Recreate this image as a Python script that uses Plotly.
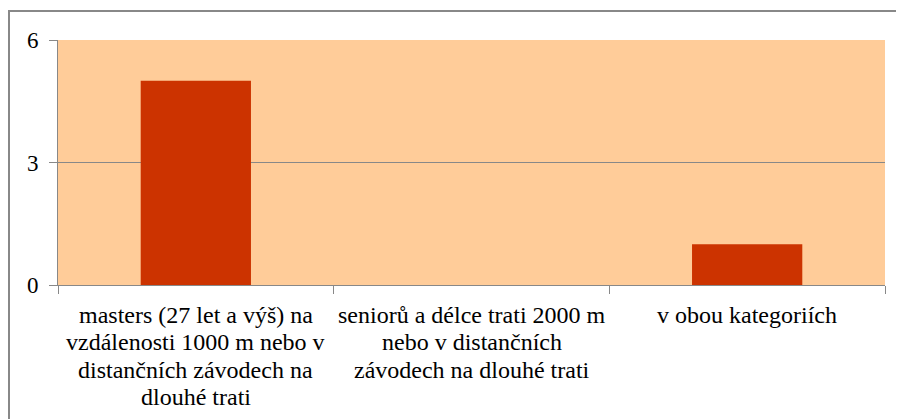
import plotly.graph_objects as go

categories = [
    "masters (27 let a výš) na<br>vzdálenosti 1000 m nebo v<br>distančních závodech na<br>dlouhé trati",
    "seniorů a délce trati 2000 m<br>nebo v distančních<br>závodech na dlouhé trati",
    "v obou kategoriích",
]
values = [5, 0, 1]
y_ticks = [0, 3, 6]

# page body adds an 8px margin, so the figure is drawn 8px in from the window edge
W, H = 896, 411
L, R, T, B = 50, 19, 32, 134
pw, ph = W - L - R, H - T - B

serif = "'Times New Roman', 'Liberation Serif', serif"
FS = 24
LINE_GAP = 27.3

fig = go.Figure(
    go.Bar(
        x=categories,
        y=values,
        marker_color="#CC3300",
        marker_line_width=0,
    )
)

# category labels drawn line by line so the line spacing matches the original
annotations = []
for cat in categories:
    for i, line in enumerate(cat.split("<br>")):
        annotations.append(dict(
            x=cat, y=0, xref="x", yref="y",
            text=line, showarrow=False,
            xanchor="center", yanchor="middle",
            yshift=-(30 + LINE_GAP * i),
            font=dict(family=serif, size=FS, color="black"),
        ))

fig.update_layout(
    width=W,
    height=H,
    margin=dict(l=L, r=R, t=T, b=B),
    paper_bgcolor="white",
    plot_bgcolor="#FFCC99",
    bargap=0.6,
    showlegend=False,
    font=dict(family=serif, size=FS, color="black"),
    xaxis=dict(
        type="category",
        tickson="boundaries",
        ticks="outside",
        ticklen=8,
        tickcolor="#888888",
        showline=True,
        linecolor="#888888",
        linewidth=1,
        showgrid=False,
        showticklabels=False,
    ),
    yaxis=dict(
        range=[0, 6],
        tickvals=y_ticks,
        ticks="outside",
        ticklen=8,
        tickcolor="#888888",
        showline=True,
        linecolor="#888888",
        linewidth=1,
        showgrid=True,
        gridcolor="#888888",
        gridwidth=1,
        zeroline=False,
        ticklabelstandoff=6,
        tickfont=dict(family=serif, size=23),
    ),
    annotations=annotations,
    shapes=[
        dict(
            type="rect",
            xref="paper",
            yref="paper",
            x0=(1 - L) / pw,
            x1=(W + 20 - L) / pw,
            y0=(ph + T - (H + 20)) / ph,
            y1=(ph + T - 3) / ph,
            line=dict(color="#888888", width=2),
            layer="below",
        )
    ],
)

fig.write_html("out.html")
